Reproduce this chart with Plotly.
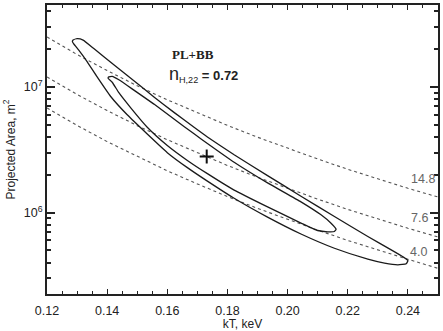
import math
import plotly.graph_objects as go

# ---- data ----
# outer confidence contour (kT in keV, projected area in m^2)
outer_kt = [0.12867, 0.13000, 0.13200, 0.13556, 0.14222, 0.14889, 0.15556, 0.16222, 0.16889,
            0.17333, 0.18222, 0.19333, 0.20444, 0.21556, 0.22667, 0.23444, 0.23833, 0.24000,
            0.23944, 0.23667, 0.23222, 0.22667, 0.21556, 0.20444, 0.19333, 0.18222,
            0.17333, 0.16667, 0.16000, 0.15333, 0.14667, 0.14111, 0.13667, 0.13333,
            0.13056, 0.12889, 0.12844, 0.12867]
outer_area = [2.36e7, 2.42e7, 2.36e7, 2.02e7, 1.50e7, 1.12e7, 8.33e6, 6.275e6, 4.77e6,
              3.996e6, 2.886e6, 1.97e6, 1.35e6, 9.30e5, 6.45e5, 5.05e5, 4.45e5, 4.15e5,
              3.92e5, 3.84e5, 3.96e5, 4.26e5, 5.20e5, 6.75e5, 9.20e5, 1.30e6,
              1.78e6, 2.28e6, 3.00e6, 4.22e6, 6.00e6, 8.43e6, 1.20e7, 1.59e7,
              1.96e7, 2.20e7, 2.30e7, 2.36e7]

# inner confidence contour
inner_kt = [0.14044, 0.14167, 0.14389, 0.14889, 0.15556, 0.16222, 0.16889, 0.17333, 0.18222,
            0.19333, 0.20444, 0.21111, 0.21444, 0.21611,
            0.21556, 0.21333, 0.21000, 0.20444, 0.19333, 0.18222, 0.17333, 0.16667,
            0.16000, 0.15333, 0.14778, 0.14389, 0.14167, 0.14033, 0.14044]
inner_area = [1.20e7, 1.215e7, 1.14e7, 9.43e6, 7.30e6, 5.55e6, 4.236e6, 3.548e6, 2.517e6,
              1.724e6, 1.218e6, 9.60e5, 8.23e5, 7.37e5,
              7.07e5, 7.03e5, 7.20e5, 8.25e5, 1.11e6, 1.51e6, 2.04e6, 2.60e6,
              3.42e6, 4.78e6, 6.85e6, 9.00e6, 1.09e7, 1.17e7, 1.20e7]

# dashed reference curves
ref_kt = [0.12, 0.13, 0.14, 0.15, 0.16, 0.17, 0.18, 0.19, 0.20, 0.21, 0.22, 0.23, 0.24, 0.25]
ref_148 = [2.5e7, 1.81e7, 1.35e7, 1.02e7, 7.9e6, 6.23e6, 4.94e6, 3.98e6, 3.24e6, 2.67e6, 2.21e6,
           1.85e6, 1.56e6, 1.33e6]
ref_76 = [1.2e7, 8.71e6, 6.48e6, 4.92e6, 3.80e6, 2.99e6, 2.37e6, 1.91e6, 1.56e6, 1.28e6, 1.06e6,
          8.9e5, 7.5e5, 6.4e5]
ref_40 = [6.8e6, 4.94e6, 3.67e6, 2.79e6, 2.15e6, 1.69e6, 1.34e6, 1.08e6, 8.8e5, 7.25e5, 6.0e5,
          5.03e5, 4.25e5, 3.6e5]
ref_labels = ["14.8", "7.6", "4.0"]
ref_label_kt = [0.2451, 0.2438, 0.2435]
ref_label_area = [1.838e6, 9.01e5, 4.84e5]

best_kt = [0.1731]
best_area = [2.8e6]

x_ticks = [0.12, 0.14, 0.16, 0.18, 0.20, 0.22, 0.24]
x_ticktext = ["0.12", "0.14", "0.16", "0.18", "0.20", "0.22", "0.24"]
y_ticks = [1e6, 1e7]
y_ticktext = ["10<sup>6</sup>", "10<sup>7</sup>"]

fig = go.Figure()

dash_style = dict(color="#555555", width=1.1, dash="3px,3px")
for ys in (ref_148, ref_76, ref_40):
    fig.add_trace(go.Scatter(x=ref_kt, y=ys, mode="lines", line=dash_style,
                             showlegend=False, hoverinfo="skip"))

solid = dict(color="#1a1a1a", width=1.3, shape="spline", smoothing=0.4)
fig.add_trace(go.Scatter(x=outer_kt, y=outer_area, mode="lines", line=solid, showlegend=False))
fig.add_trace(go.Scatter(x=inner_kt, y=inner_area, mode="lines", line=solid, showlegend=False))
fig.add_trace(go.Scatter(x=best_kt, y=best_area, mode="markers",
                         marker=dict(symbol="cross-thin", size=10,
                                     line=dict(color="#111111", width=2)),
                         showlegend=False))

for t, xk, ya in zip(ref_labels, ref_label_kt, ref_label_area):
    fig.add_annotation(x=xk, y=math.log10(ya), text=t, showarrow=False,
                       xref="x", yref="y",
                       font=dict(family="Liberation Sans, Arial", size=12.5, color="#666666"))

fig.add_annotation(x=0.1685, y=7.256, text="<b>PL+BB</b>", showarrow=False, xref="x", yref="y",
                   font=dict(family="Liberation Serif, Times New Roman", size=13, color="#222222"))
fig.add_annotation(x=0.1600, y=7.10, xanchor="left",
                   text="<span style='font-size:18px'>n</span><sub>H,22</sub><b> = 0.72</b>",
                   showarrow=False, xref="x", yref="y",
                   font=dict(family="Liberation Sans, Arial", size=13, color="#222222"))

minor_y = [m * 10 ** e for e in (5, 6, 7) for m in range(2, 10)]

axis_common = dict(showline=True, linecolor="#222222", linewidth=2, mirror="ticks",
                   ticks="inside", tickcolor="#222222", showgrid=False, zeroline=False,
                   automargin=False,
                   tickfont=dict(family="Liberation Sans, Arial", size=12.5, color="#222222"))

fig.update_xaxes(range=[0.12, 0.25], tickvals=x_ticks, ticktext=x_ticktext, ticklen=5,
                 tickwidth=1.2, ticklabelstandoff=4,
                 minor=dict(dtick=0.005, tick0=0.12, ticks="inside", ticklen=3,
                            tickcolor="#222222", showgrid=False),
                 title=dict(text="kT, keV", standoff=0,
                            font=dict(family="Liberation Sans, Arial", size=12, color="#222222")),
                 **axis_common)
fig.update_yaxes(type="log", range=[5.352, 7.652], tickvals=y_ticks, ticktext=y_ticktext,
                 ticklen=8, tickwidth=1.5,
                 minor=dict(tickvals=minor_y, ticks="inside", ticklen=4,
                            tickcolor="#222222", showgrid=False),
                 title=dict(text="Projected Area, m<sup>2</sup>", standoff=6,
                            font=dict(family="Liberation Sans, Arial", size=12, color="#222222")),
                 **axis_common)

fig.update_layout(width=443, height=331, margin=dict(l=47, r=5, t=5, b=37),
                  plot_bgcolor="white", paper_bgcolor="white", showlegend=False)

fig.write_html("out.html", config={"displayModeBar": False},
               post_script="document.body.style.margin='0px';document.body.style.padding='0px';")
